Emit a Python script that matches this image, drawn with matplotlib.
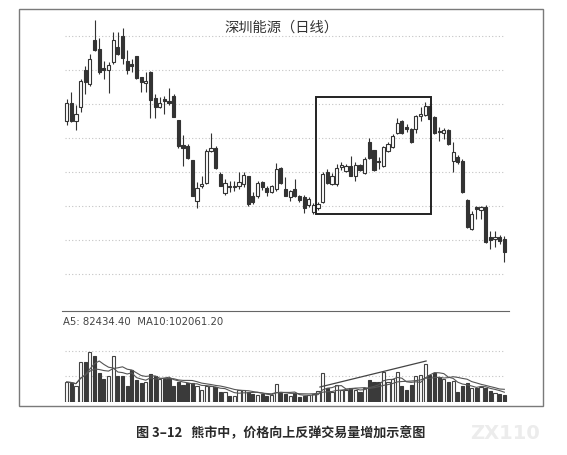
import numpy as np
import pandas as pd
import matplotlib
matplotlib.use('Agg')
import matplotlib.pyplot as plt
from matplotlib.patches import Rectangle

plt.rcParams['font.family'] = ['Noto Sans CJK SC', 'DejaVu Sans']

TITLE = '深圳能源（日线）'
CAPTION = '图 3–12   熊市中，价格向上反弹交易量增加示意图'
MA_TEXT = 'A5: 82434.40  MA10:102061.20'

# daily OHLC (arbitrary price units)
opens = [3.78, 3.96, 3.78, 3.92, 4.29, 4.15, 4.59, 4.50, 4.31, 4.29,
         4.37, 4.52, 4.63, 4.38, 4.35, 4.43, 4.22, 4.16, 4.27, 4.01,
         3.92, 4.00, 3.98, 4.03, 3.79, 3.54, 3.53, 3.39, 2.98, 3.13,
         3.16, 3.48, 3.51, 3.25, 3.06, 3.13, 3.12, 3.13, 3.15, 3.23,
         3.03, 3.03, 3.17, 3.11, 3.07, 3.10, 3.31, 3.10, 3.02, 3.10,
         3.03, 3.02, 2.94, 2.87, 2.91, 2.97, 3.27, 3.15, 3.15, 3.32,
         3.28, 3.33, 3.23, 3.34, 3.26, 3.57, 3.49, 3.38, 3.33, 3.48,
         3.52, 3.66, 3.78, 3.72, 3.70, 3.70, 3.83, 3.84, 3.93, 3.82,
         3.68, 3.66, 3.69, 3.38, 3.42, 3.38, 2.99, 2.70, 2.92, 2.89,
         2.92, 2.62, 2.60, 2.62, 2.60]
highs = [4.00, 4.07, 3.94, 4.20, 4.33, 4.45, 4.79, 4.61, 4.38, 4.37,
         4.67, 4.67, 4.71, 4.49, 4.40, 4.43, 4.22, 4.27, 4.28, 4.05,
         4.02, 4.03, 4.11, 4.05, 3.79, 3.64, 3.55, 3.39, 3.17, 3.23,
         3.50, 3.66, 3.53, 3.27, 3.20, 3.18, 3.18, 3.27, 3.27, 3.23,
         3.07, 3.18, 3.18, 3.13, 3.14, 3.36, 3.32, 3.22, 3.09, 3.20,
         3.04, 3.04, 3.02, 2.96, 2.97, 3.27, 3.30, 3.26, 3.35, 3.37,
         3.35, 3.43, 3.37, 3.35, 3.42, 3.61, 3.49, 3.42, 3.53, 3.57,
         3.65, 3.81, 3.79, 3.75, 3.71, 3.84, 3.92, 3.97, 3.94, 3.83,
         3.72, 3.71, 3.70, 3.57, 3.44, 3.40, 3.00, 2.88, 2.93, 2.93,
         2.94, 2.68, 2.68, 2.64, 2.63]
lows = [3.74, 3.77, 3.69, 3.87, 4.05, 4.13, 4.48, 4.25, 4.20, 4.06,
        4.35, 4.44, 4.35, 4.25, 4.27, 4.20, 4.07, 4.07, 3.81, 3.81,
        3.91, 3.85, 3.94, 3.82, 3.51, 3.33, 3.40, 3.03, 2.91, 3.11,
        3.15, 3.47, 3.30, 3.13, 3.04, 3.07, 3.08, 3.10, 3.12, 2.93,
        2.95, 3.01, 3.09, 3.03, 3.06, 3.08, 3.15, 3.03, 2.98, 3.02,
        2.97, 2.86, 2.92, 2.85, 2.89, 2.96, 3.15, 3.14, 3.13, 3.29,
        3.27, 3.23, 3.18, 3.28, 3.25, 3.40, 3.28, 3.30, 3.32, 3.47,
        3.51, 3.65, 3.65, 3.67, 3.56, 3.66, 3.78, 3.83, 3.79, 3.65,
        3.58, 3.60, 3.54, 3.27, 3.35, 3.06, 2.71, 2.69, 2.80, 2.80,
        2.56, 2.50, 2.52, 2.55, 2.37]
closes = [3.96, 3.78, 3.85, 4.18, 4.17, 4.40, 4.49, 4.27, 4.29, 4.34,
          4.59, 4.45, 4.41, 4.29, 4.33, 4.21, 4.17, 4.18, 3.99, 3.92,
          3.96, 3.98, 3.96, 3.82, 3.53, 3.51, 3.41, 3.03, 3.11, 3.15,
          3.48, 3.51, 3.31, 3.13, 3.16, 3.12, 3.13, 3.17, 3.24, 2.95,
          2.97, 3.16, 3.12, 3.07, 3.13, 3.30, 3.16, 3.03, 3.08, 3.03,
          2.99, 2.91, 3.00, 2.94, 2.95, 3.25, 3.16, 3.23, 3.31, 3.34,
          3.33, 3.23, 3.34, 3.29, 3.40, 3.41, 3.29, 3.37, 3.52, 3.55,
          3.63, 3.76, 3.66, 3.70, 3.57, 3.83, 3.85, 3.93, 3.80, 3.66,
          3.67, 3.69, 3.55, 3.47, 3.37, 3.07, 2.72, 2.85, 2.90, 2.92,
          2.57, 2.59, 2.62, 2.58, 2.47]
# volume, thousand lots
volumes = [160, 152, 128, 320, 320, 400, 368, 232, 184, 208,
           368, 208, 208, 128, 256, 176, 152, 160, 224, 208,
           184, 184, 192, 128, 160, 136, 152, 152, 128, 96,
           128, 128, 120, 80, 80, 48, 48, 96, 96, 80,
           64, 56, 64, 48, 56, 144, 72, 64, 48, 72,
           40, 48, 56, 64, 88, 232, 112, 80, 136, 96,
           96, 112, 96, 80, 112, 176, 160, 160, 240, 160,
           184, 240, 128, 96, 136, 208, 216, 304, 216, 232,
           200, 184, 160, 168, 80, 128, 152, 112, 112, 120,
           112, 88, 72, 64, 56]

# rebound window (candle index / price) and volume trend line
box_x = [53.5, 78.2]
box_y = [2.85, 4.02]
trend_x = [54.4, 77.2]
trend_v = [120, 328]

price_grid = [2.25, 2.59, 2.93, 3.27, 3.61, 3.95, 4.29, 4.63]
vol_grid = [208, 408]

DARK = '#333333'
GRID = '#c4c4c4'


def draw_candles(ax, df):
    idx = np.arange(len(df))
    up = df['close'] >= df['open']
    ax.vlines(idx, df['low'], df['high'], color=DARK, lw=0.8, zorder=2)
    bottom = np.minimum(df['open'], df['close'])
    height = np.maximum((df['close'] - df['open']).abs(), 0.006)
    ax.bar(idx[up], height[up], bottom=bottom[up], width=0.68,
           facecolor='white', edgecolor=DARK, lw=0.8, zorder=3)
    ax.bar(idx[~up], height[~up], bottom=bottom[~up], width=0.68,
           facecolor=DARK, edgecolor=DARK, lw=0.8, zorder=3)


def draw_volume(ax, df):
    idx = np.arange(len(df))
    up = df['close'] >= df['open']
    ax.bar(idx[up], df['volume'][up], width=0.68,
           facecolor='white', edgecolor='#444444', lw=0.8, zorder=3)
    ax.bar(idx[~up], df['volume'][~up], width=0.68,
           facecolor='#3a3a3a', edgecolor='#3a3a3a', lw=0.8, zorder=3)
    ma5 = df['volume'].rolling(5, min_periods=1).mean()
    ma10 = df['volume'].rolling(10, min_periods=1).mean()
    ax.plot(idx, ma5, color='#555555', lw=0.8, zorder=4)
    ax.plot(idx, ma10, color='#555555', lw=0.8, zorder=4)
    ax.plot(trend_x, trend_v, color='#444444', lw=0.9, zorder=5)


def main():
    df = pd.DataFrame({'open': opens, 'high': highs, 'low': lows,
                       'close': closes, 'volume': volumes})

    fig = plt.figure(figsize=(5.67, 4.56), dpi=100)
    fig.patch.set_facecolor('white')

    ax = fig.add_axes([0.1093, 0.3311, 0.7884, 0.6425])
    vax = fig.add_axes([0.1093, 0.1162, 0.7884, 0.1996])

    for a in (ax, vax):
        a.set_xlim(-1, len(df))
        a.set_xticks([])
        a.set_yticks([])
        for s in a.spines.values():
            s.set_visible(False)
        a.set_facecolor('none')

    ax.set_ylim(1.95, 4.88)
    for g in price_grid:
        ax.axhline(g, xmin=0.006, xmax=0.99, color=GRID, lw=0.8,
                   ls=(0, (1, 2)), zorder=1)
    draw_candles(ax, df)
    ax.add_patch(Rectangle((box_x[0], box_y[0]), box_x[1] - box_x[0],
                           box_y[1] - box_y[0], fill=False,
                           edgecolor='#222222', lw=1.4, zorder=6))

    vax.set_ylim(0, 728)
    vax.spines['top'].set_visible(True)
    vax.spines['top'].set_color('#666666')
    vax.spines['top'].set_linewidth(0.8)
    for g in vol_grid:
        vax.axhline(g, xmin=0.006, xmax=0.99, color=GRID, lw=0.8,
                    ls=(0, (1, 2)), zorder=1)
    draw_volume(vax, df)

    # outer window frame
    fig.add_artist(Rectangle((19 / 567, 1 - 407 / 456), 524 / 567, 397 / 456,
                             transform=fig.transFigure, fill=False,
                             edgecolor='#7a7a7a', lw=1.0))

    fig.text(0.4956, 0.9386, TITLE, ha='center', va='center',
             fontsize=10.3, color=DARK)
    fig.text(0.111, 0.294, MA_TEXT, ha='left', va='center', fontsize=7.3,
             color='#444444', family=['DejaVu Sans'])
    fig.text(0.2399, 0.0504, CAPTION, ha='left', va='center', fontsize=9.4,
             color='#2a2a2a', fontweight='bold')
    fig.text(0.83, 0.05, 'ZX110', ha='left', va='center', fontsize=14,
             color='#ececec', fontweight='bold', family=['DejaVu Sans'])

    fig.savefig('out.png', dpi=100)


if __name__ == '__main__':
    main()
